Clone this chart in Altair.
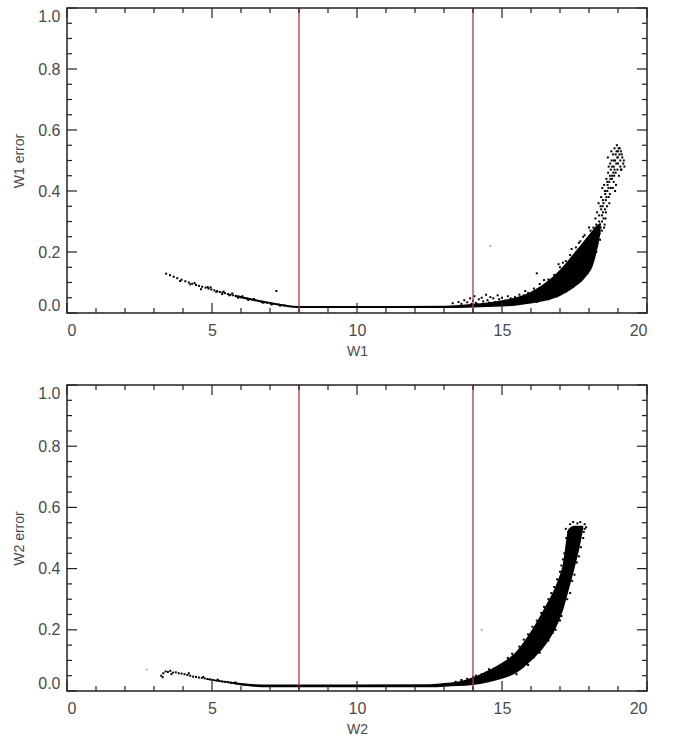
import altair as alt
import pandas as pd

# ---------------- data ----------------
cut_lines = [8, 14]

# W1 panel
w1_tail_x = [3.42, 3.55, 3.68, 3.80, 3.95, 4.08, 4.20, 4.32, 4.45, 4.55, 4.66, 4.78, 4.88, 4.98,
             5.08, 5.18, 5.27, 5.36, 5.45, 5.55, 5.64, 5.73, 5.82, 5.92, 6.01, 6.10, 6.20, 6.30,
             6.40, 6.50, 6.60, 6.70, 6.80, 6.90, 7.00, 7.10, 7.20, 7.30, 7.40, 7.50,
             4.62, 4.95, 5.35, 5.70, 7.22, 6.05, 6.45, 3.90, 4.40, 5.90, 6.25, 6.75, 7.05, 7.35,
             5.15, 5.40, 5.60, 4.85, 4.25]
w1_tail_y = [0.129, 0.124, 0.119, 0.114, 0.109, 0.104, 0.100, 0.096, 0.092, 0.089, 0.086, 0.083, 0.080, 0.077,
             0.074, 0.072, 0.069, 0.067, 0.065, 0.062, 0.060, 0.058, 0.055, 0.053, 0.051, 0.049, 0.047, 0.045,
             0.043, 0.041, 0.039, 0.037, 0.035, 0.033, 0.032, 0.030, 0.029, 0.028, 0.026, 0.025,
             0.078, 0.084, 0.062, 0.064, 0.072, 0.055, 0.046, 0.105, 0.098, 0.050, 0.043, 0.034, 0.028, 0.024,
             0.069, 0.070, 0.058, 0.085, 0.094]

w1_band_x  = [5.8, 6.5, 7.0, 7.6, 8.0, 10.0, 13.0, 14.0, 15.0, 15.5, 16.0, 16.5, 17.0, 17.5, 17.9, 18.15, 18.3, 18.4]
w1_band_lo = [0.053, 0.039, 0.030, 0.020, 0.016, 0.016, 0.016, 0.018, 0.021, 0.025, 0.031, 0.040, 0.056, 0.085, 0.120, 0.160, 0.215, 0.265]
w1_band_hi = [0.060, 0.045, 0.036, 0.026, 0.023, 0.023, 0.024, 0.030, 0.042, 0.052, 0.070, 0.100, 0.142, 0.198, 0.245, 0.275, 0.290, 0.295]

w1_cloud_x = [18.15, 18.22, 18.30, 18.28, 18.35, 18.40, 18.38, 18.45, 18.42, 18.50, 18.48, 18.55, 18.52,
              18.58, 18.60, 18.63, 18.66, 18.62, 18.70, 18.68, 18.72, 18.75, 18.78, 18.74, 18.80, 18.83,
              18.85, 18.88, 18.90, 18.92, 18.95, 18.98, 19.00, 19.02, 19.05, 19.08, 19.10, 19.12, 19.15,
              19.20, 19.22, 18.93, 18.82, 18.57, 18.33, 18.46, 18.87, 18.77, 19.03, 18.65, 18.25, 18.36,
              18.44, 18.54, 18.70, 19.10, 18.96, 18.90,
              18.20, 18.30, 18.40, 18.45, 18.35, 18.50, 18.55, 18.42, 18.60, 18.48, 18.63, 18.67, 18.72,
              18.80, 18.86, 18.92, 19.00, 19.06, 19.13, 19.18, 18.98, 18.85, 18.75, 18.58, 18.38, 18.28,
              18.52, 18.68, 18.88, 18.94, 19.08, 18.79, 18.47, 18.56, 18.64, 18.73, 18.84, 18.99]
w1_cloud_y = [0.28, 0.31, 0.27, 0.33, 0.30, 0.35, 0.29, 0.32, 0.38, 0.36, 0.33, 0.40, 0.42,
              0.37, 0.44, 0.40, 0.46, 0.35, 0.43, 0.48, 0.39, 0.47, 0.50, 0.44, 0.45, 0.52,
              0.48, 0.54, 0.50, 0.46, 0.53, 0.51, 0.49, 0.54, 0.52, 0.50, 0.53, 0.47, 0.51,
              0.50, 0.48, 0.42, 0.41, 0.31, 0.36, 0.41, 0.45, 0.53, 0.45, 0.51, 0.29, 0.26,
              0.27, 0.29, 0.36, 0.47, 0.55, 0.40,
              0.25, 0.26, 0.28, 0.30, 0.32, 0.31, 0.34, 0.34, 0.38, 0.37, 0.43, 0.41, 0.45,
              0.48, 0.50, 0.52, 0.53, 0.54, 0.52, 0.49, 0.47, 0.43, 0.41, 0.33, 0.24, 0.22,
              0.28, 0.38, 0.47, 0.49, 0.48, 0.44, 0.35, 0.39, 0.42, 0.49, 0.46, 0.51]

w1_scat_x = [13.3, 13.5, 13.6, 13.7, 13.8, 13.9, 14.0, 14.05, 14.1, 14.2, 14.3, 14.35, 14.45, 14.5, 14.6,
             14.7, 14.75, 14.85, 14.9, 15.0, 15.1, 15.2, 15.3, 15.45, 15.6, 15.75, 15.9, 14.15, 13.95, 14.55,
             15.8, 16.1, 16.3, 16.6, 16.8, 17.0, 17.2, 17.35, 17.55, 17.7, 17.85, 18.0,
             16.2, 16.6, 16.9, 17.2, 17.45, 17.7, 17.95, 18.1, 18.25, 18.3, 16.2,
             16.45, 16.95, 17.4, 17.65, 17.1, 17.8, 18.05]
w1_scat_y = [0.032, 0.036, 0.030, 0.042, 0.035, 0.048, 0.040, 0.055, 0.033, 0.045, 0.050, 0.038, 0.060, 0.042, 0.052,
             0.048, 0.036, 0.058, 0.045, 0.050, 0.040, 0.055, 0.048, 0.052, 0.060, 0.058, 0.066, 0.028, 0.030, 0.034,
             0.072, 0.080, 0.095, 0.110, 0.125, 0.150, 0.170, 0.190, 0.215, 0.235, 0.255, 0.280,
             0.036, 0.045, 0.055, 0.070, 0.085, 0.105, 0.130, 0.160, 0.200, 0.230, 0.130,
             0.108, 0.160, 0.210, 0.230, 0.165, 0.250, 0.270]
w1_faint_x = [14.6]
w1_faint_y = [0.22]

# W2 panel
w2_tail_x = [3.25, 3.32, 3.40, 3.48, 3.56, 3.65, 3.75, 3.85, 3.95, 4.05, 4.15, 4.25, 4.35, 4.45, 4.55,
             4.65, 4.75, 4.85, 4.95, 5.05, 5.15, 5.25, 5.35, 5.45, 5.55, 5.65, 5.75, 5.85, 5.95, 6.05,
             6.15, 6.25, 3.30, 3.60, 4.20, 4.70, 5.20, 5.80]
w2_tail_y = [0.050, 0.058, 0.064, 0.062, 0.066, 0.060, 0.061, 0.058, 0.057, 0.055, 0.052, 0.050, 0.047, 0.046, 0.044,
             0.043, 0.041, 0.039, 0.038, 0.036, 0.034, 0.033, 0.031, 0.030, 0.029, 0.027, 0.026, 0.024, 0.023, 0.022,
             0.021, 0.020, 0.045, 0.055, 0.058, 0.046, 0.037, 0.028]

w2_band_x  = [4.8, 5.5, 6.2, 7.0, 12.5, 13.0, 13.5, 14.0, 14.5, 15.0, 15.5, 16.0, 16.5, 16.9, 17.1, 17.3, 17.5, 17.7, 17.8]
w2_band_lo = [0.037, 0.027, 0.016, 0.012, 0.012, 0.014, 0.016, 0.020, 0.028, 0.040, 0.060, 0.098, 0.150, 0.215, 0.262, 0.330, 0.400, 0.480, 0.530]
w2_band_hi = [0.041, 0.032, 0.024, 0.021, 0.022, 0.026, 0.031, 0.045, 0.066, 0.092, 0.130, 0.195, 0.278, 0.355, 0.415, 0.530, 0.540, 0.540, 0.540]

w2_scat_x = [13.4, 13.6, 13.8, 13.9, 14.1, 14.2, 14.3, 14.45, 14.6, 14.7, 14.8, 14.9, 15.0, 15.1, 13.7, 14.0,
             14.55, 14.25,
             15.2, 15.6, 15.9, 16.2, 16.45, 16.7, 16.9, 17.05, 17.15, 17.22, 17.2, 17.35, 17.6, 17.85, 17.82,
             15.5, 15.9, 16.3, 16.6, 16.85, 17.05, 17.25, 17.42, 17.58, 17.72, 17.8, 17.85,
             15.35, 15.75, 16.05, 16.35, 16.6, 16.8, 17.0, 17.1, 17.28, 17.45, 17.7, 17.9,
             15.7, 16.1, 16.45, 16.75, 17.0, 17.35, 17.5, 17.65]
w2_scat_y = [0.030, 0.036, 0.040, 0.033, 0.050, 0.042, 0.055, 0.060, 0.065, 0.058, 0.072, 0.068, 0.080, 0.075, 0.028, 0.046,
             0.071, 0.038,
             0.108, 0.145, 0.185, 0.230, 0.275, 0.320, 0.365, 0.410, 0.450, 0.500, 0.530, 0.545, 0.548, 0.545, 0.520,
             0.055, 0.085, 0.125, 0.165, 0.200, 0.245, 0.300, 0.360, 0.420, 0.470, 0.500, 0.530,
             0.122, 0.168, 0.210, 0.255, 0.300, 0.340, 0.390, 0.430, 0.520, 0.552, 0.552, 0.535,
             0.078, 0.110, 0.150, 0.190, 0.230, 0.320, 0.380, 0.440]
w2_faint_x = [2.75, 14.3]
w2_faint_y = [0.070, 0.200]

x_major = [0, 5, 10, 15, 20]
x_minor = [1, 2, 3, 4, 6, 7, 8, 9, 11, 12, 13, 14, 16, 17, 18, 19]
y_major = [0.0, 0.2, 0.4, 0.6, 0.8, 1.0]
y_minor = [0.05, 0.1, 0.15, 0.25, 0.3, 0.35, 0.45, 0.5, 0.55, 0.65, 0.7, 0.75, 0.85, 0.9, 0.95]

# ---------------- chart ----------------
W, H = 580, 305
FONT = "Liberation Sans"
TXT = "#4a4a4a"


def panel(name, tail_x, tail_y, band_x, band_lo, band_hi, extra_x, extra_y, faint_x, faint_y, h):
    xs = alt.Scale(domain=[0, 20], nice=False, zero=False)
    ys = alt.Scale(domain=[0, 1], nice=False, zero=False)
    xax = alt.Axis(values=x_major, format="d", ticks=False, domain=False, grid=False,
                   labelPadding=9, title=name, titlePadding=6)
    yax = alt.Axis(values=y_major, format=".1f", ticks=False, domain=False, grid=False,
                   labelPadding=7, labelFlush=True, title=name + " error", titlePadding=11)

    band = alt.Chart(pd.DataFrame({"x": band_x, "lo": band_lo, "hi": band_hi})).mark_area(
        color="black", opacity=1, interpolate="monotone"
    ).encode(
        x=alt.X("x:Q", scale=xs, axis=xax),
        y=alt.Y("lo:Q", scale=ys, axis=yax),
        y2="hi:Q",
    )
    pts = pd.DataFrame({"x": list(tail_x) + list(extra_x), "y": list(tail_y) + list(extra_y)})
    dots = alt.Chart(pts).mark_square(size=4, color="black", opacity=1).encode(
        x=alt.X("x:Q", scale=xs), y=alt.Y("y:Q", scale=ys)
    )
    faint = alt.Chart(pd.DataFrame({"x": faint_x, "y": faint_y})).mark_square(
        size=4, color="#b0b0b0", opacity=1
    ).encode(x=alt.X("x:Q", scale=xs), y=alt.Y("y:Q", scale=ys))

    red = alt.Chart(pd.DataFrame({"x": cut_lines})).mark_rule(color="#b03a3a", strokeWidth=1.3).encode(
        x=alt.X("x:Q", scale=xs)
    )

    def xt(vals, y0, y1):
        return alt.Chart(pd.DataFrame({"t": vals})).mark_rule(color="#222222", strokeWidth=1.2).encode(
            x=alt.X("t:Q", scale=xs), y=alt.value(y0), y2=alt.value(y1)
        )

    def yt(vals, x0, x1):
        return alt.Chart(pd.DataFrame({"t": vals})).mark_rule(color="#222222", strokeWidth=1.2).encode(
            y=alt.Y("t:Q", scale=ys), x=alt.value(x0), x2=alt.value(x1)
        )

    ticks = [
        xt(x_major, h, h - 10), xt(x_minor, h, h - 5),
        xt(x_major, 0, 10), xt(x_minor, 0, 5),
        yt(y_major, 0, 10), yt(y_minor, 0, 5),
        yt(y_major, W, W - 10), yt(y_minor, W, W - 5),
    ]
    return alt.layer(band, dots, faint, red, *ticks).properties(width=W, height=h)


top = panel("W1", w1_tail_x, w1_tail_y, w1_band_x, w1_band_lo, w1_band_hi,
            w1_cloud_x + w1_scat_x, w1_cloud_y + w1_scat_y, w1_faint_x, w1_faint_y, H)
bottom = panel("W2", w2_tail_x, w2_tail_y, w2_band_x, w2_band_lo, w2_band_hi,
               w2_scat_x, w2_scat_y, w2_faint_x, w2_faint_y, 306)

chart = alt.vconcat(top, bottom, spacing=72, bounds="flush").properties(
    padding={"left": 12, "top": 6, "right": 10, "bottom": 5},
    background="white",
).configure_view(
    stroke="#222222", strokeWidth=1.5
).configure_axis(
    labelFont=FONT, labelFontSize=16, labelColor=TXT,
    titleFont=FONT, titleFontSize=14, titleColor=TXT, titleFontWeight="normal",
)

chart.save("out.html", embed_options={"renderer": "svg", "actions": False})
